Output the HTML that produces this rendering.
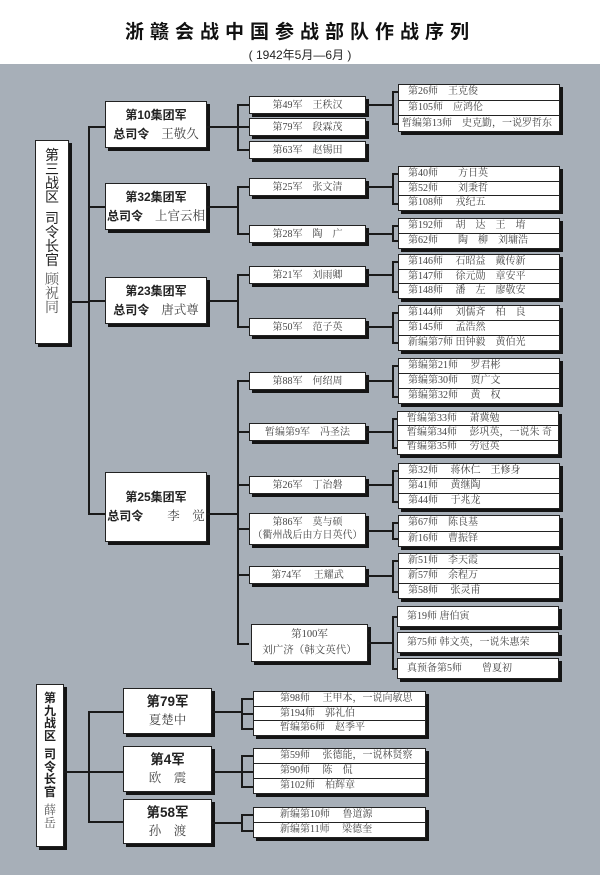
<!DOCTYPE html>
<html><head><meta charset="utf-8">
<style>
*{margin:0;padding:0;box-sizing:border-box}
body{width:600px;height:875px;position:relative;background:#fff;overflow:hidden;font-family:"Liberation Serif","Noto Serif CJK SC",serif}
#bg{position:absolute;left:0;top:64px;width:600px;height:811px;background:#a7afb8}
.a{position:absolute}
.h{position:absolute;height:1.5px;background:#1a1a1a}
.v{position:absolute;width:1.5px;background:#1a1a1a}
.b{position:absolute;background:#fff;border:1px solid #222;box-shadow:3px 3px 0 #141414;overflow:hidden}
.g{display:flex;flex-direction:column;justify-content:center;align-items:center;font-family:"Liberation Sans","Noto Sans CJK SC",sans-serif;font-weight:bold;font-size:12px;color:#222;line-height:19px;white-space:nowrap}
.g .n{font-family:"Liberation Serif","Noto Serif CJK SC",serif;font-weight:normal;color:#444;font-size:12.5px}
.ar{display:flex;align-items:center;justify-content:center;font-size:10px;color:#444;white-space:pre;text-align:center;line-height:13px}
.d{display:flex;flex-direction:column}
.d div{flex:1;min-height:0;border-top:1px solid #222;font-size:10px;line-height:1;color:#444;white-space:pre;padding-left:9px;display:flex;align-items:center;overflow:hidden}
.d div:first-child{border-top:none}
.d2 div{padding-left:26px}
.L{display:flex;flex-direction:column;align-items:center;padding-top:8px;font-family:"Liberation Sans","Noto Sans CJK SC",sans-serif;font-weight:bold;font-size:13px;color:#222;line-height:14px}
.L .n{font-family:"Liberation Serif","Noto Serif CJK SC",serif;font-weight:normal;color:#555}
</style></head><body>
<div class="a" style="left:0;top:17px;width:600px;text-align:center;font-family:'Liberation Sans','Noto Sans CJK SC',sans-serif;font-weight:bold;font-size:19px;letter-spacing:6px;color:#111">浙赣会战中国参战部队作战序列</div>
<div class="a" style="left:0;top:46px;width:600px;text-align:center;font-family:'Liberation Sans','Noto Sans CJK SC',sans-serif;font-size:12px;color:#222">( 1942年5月—6月 )</div>
<div id="bg"></div>

<div class="b L" style="left:35px;top:140px;width:34px;height:204px;padding-top:7px;font-weight:normal;font-size:14px;line-height:14px"><span>第</span><span>三</span><span>战</span><span>区</span><span style="height:7px"></span><span>司</span><span>令</span><span>长</span><span>官</span><span style="height:7px"></span><span class="n">顾</span><span class="n">祝</span><span class="n">同</span></div>
<div class="h" style="left:69px;top:301px;width:19px"></div>
<div class="v" style="left:88px;top:126px;height:388px"></div>
<div class="h" style="left:88px;top:126px;width:17px"></div>
<div class="h" style="left:88px;top:206px;width:17px"></div>
<div class="h" style="left:88px;top:300px;width:17px"></div>
<div class="h" style="left:88px;top:513px;width:17px"></div>

<div class="b g" style="left:105px;top:101px;width:102px;height:47px"><span>第10集团军</span><span>总司令　<span class="n">王敬久</span></span></div>
<div class="b g" style="left:105px;top:183px;width:102px;height:47px"><span>第32集团军</span><span>总司令　<span class="n">上官云相</span></span></div>
<div class="b g" style="left:105px;top:277px;width:102px;height:47px"><span>第23集团军</span><span>总司令　<span class="n">唐式尊</span></span></div>
<div class="b g" style="left:105px;top:472px;width:102px;height:70px"><span>第25集团军</span><span>总司令　　<span class="n">李　觉</span></span></div>

<div class="h" style="left:207px;top:126px;width:30px"></div>
<div class="v" style="left:237px;top:104px;height:46px"></div>
<div class="h" style="left:237px;top:104px;width:12px"></div>
<div class="h" style="left:237px;top:126px;width:12px"></div>
<div class="h" style="left:237px;top:149px;width:12px"></div>

<div class="h" style="left:207px;top:206px;width:30px"></div>
<div class="v" style="left:237px;top:186px;height:48px"></div>
<div class="h" style="left:237px;top:186px;width:12px"></div>
<div class="h" style="left:237px;top:233px;width:12px"></div>

<div class="h" style="left:207px;top:300px;width:30px"></div>
<div class="v" style="left:237px;top:274px;height:53px"></div>
<div class="h" style="left:237px;top:274px;width:12px"></div>
<div class="h" style="left:237px;top:326px;width:12px"></div>

<div class="h" style="left:207px;top:513px;width:30px"></div>
<div class="v" style="left:237px;top:380px;height:264px"></div>
<div class="h" style="left:237px;top:380px;width:12px"></div>
<div class="h" style="left:237px;top:431px;width:12px"></div>
<div class="h" style="left:237px;top:484px;width:12px"></div>
<div class="h" style="left:237px;top:528px;width:12px"></div>
<div class="h" style="left:237px;top:574px;width:12px"></div>
<div class="h" style="left:237px;top:643px;width:12px"></div>

<div class="b ar" style="left:249px;top:96px;width:117px;height:18px">第49军　王秩汉</div>
<div class="b ar" style="left:249px;top:118px;width:117px;height:18px">第79军　段霖茂</div>
<div class="b ar" style="left:249px;top:141px;width:117px;height:18px">第63军　赵锡田</div>
<div class="b ar" style="left:249px;top:178px;width:117px;height:18px">第25军　张文清</div>
<div class="b ar" style="left:249px;top:225px;width:117px;height:18px">第28军　陶　广</div>
<div class="b ar" style="left:249px;top:266px;width:117px;height:18px">第21军　刘雨卿</div>
<div class="b ar" style="left:249px;top:318px;width:117px;height:18px">第50军　范子英</div>
<div class="b ar" style="left:249px;top:372px;width:117px;height:18px">第88军　何绍周</div>
<div class="b ar" style="left:249px;top:423px;width:117px;height:18px">暂编第9军　冯圣法</div>
<div class="b ar" style="left:249px;top:476px;width:117px;height:18px">第26军　丁治磐</div>
<div class="b ar" style="left:249px;top:513px;width:117px;height:32px">第86军　莫与硕
（衢州战后由方日英代）</div>
<div class="b ar" style="left:249px;top:566px;width:117px;height:18px">第74军　 王耀武</div>
<div class="b ar" style="left:251px;top:624px;width:117px;height:38px;font-size:10.5px;line-height:16px">第100军
刘广济（韩文英代）</div>

<div class="h" style="left:366px;top:104px;width:26px"></div><div class="v" style="left:392px;top:91px;height:33px"></div>
<div class="h" style="left:392px;top:91px;width:6px"></div><div class="h" style="left:392px;top:123px;width:6px"></div>
<div class="h" style="left:366px;top:186px;width:26px"></div><div class="v" style="left:392px;top:173px;height:31px"></div>
<div class="h" style="left:392px;top:173px;width:6px"></div><div class="h" style="left:392px;top:203px;width:6px"></div>
<div class="h" style="left:366px;top:233px;width:26px"></div><div class="v" style="left:392px;top:225px;height:16px"></div>
<div class="h" style="left:392px;top:225px;width:6px"></div><div class="h" style="left:392px;top:240px;width:6px"></div>
<div class="h" style="left:366px;top:274px;width:26px"></div><div class="v" style="left:392px;top:261px;height:31px"></div>
<div class="h" style="left:392px;top:261px;width:6px"></div><div class="h" style="left:392px;top:291px;width:6px"></div>
<div class="h" style="left:366px;top:326px;width:26px"></div><div class="v" style="left:392px;top:312px;height:31px"></div>
<div class="h" style="left:392px;top:312px;width:6px"></div><div class="h" style="left:392px;top:342px;width:6px"></div>
<div class="h" style="left:366px;top:380px;width:26px"></div><div class="v" style="left:392px;top:365px;height:32px"></div>
<div class="h" style="left:392px;top:365px;width:6px"></div><div class="h" style="left:392px;top:396px;width:6px"></div>
<div class="h" style="left:366px;top:431px;width:26px"></div><div class="v" style="left:392px;top:418px;height:30px"></div>
<div class="h" style="left:392px;top:418px;width:6px"></div><div class="h" style="left:392px;top:447px;width:6px"></div>
<div class="h" style="left:366px;top:484px;width:26px"></div><div class="v" style="left:392px;top:470px;height:32px"></div>
<div class="h" style="left:392px;top:470px;width:6px"></div><div class="h" style="left:392px;top:501px;width:6px"></div>
<div class="h" style="left:366px;top:530px;width:26px"></div><div class="v" style="left:392px;top:522px;height:17px"></div>
<div class="h" style="left:392px;top:522px;width:6px"></div><div class="h" style="left:392px;top:538px;width:6px"></div>
<div class="h" style="left:366px;top:575px;width:26px"></div><div class="v" style="left:392px;top:560px;height:32px"></div>
<div class="h" style="left:392px;top:560px;width:6px"></div><div class="h" style="left:392px;top:591px;width:6px"></div>
<div class="h" style="left:368px;top:642px;width:24px"></div><div class="v" style="left:392px;top:616px;height:53px"></div>
<div class="h" style="left:392px;top:616px;width:6px"></div><div class="h" style="left:392px;top:668px;width:6px"></div>

<div class="b d" style="left:398px;top:84px;width:162px;height:48px"><div>第26师　王克俊</div><div>第105师　应鸿伦</div><div style="padding-left:3px">暂编第13师　史克勤，一说罗哲东</div></div>
<div class="b d" style="left:398px;top:166px;width:162px;height:45px"><div>第40师　　方日英</div><div>第52师　　刘秉哲</div><div>第108师　 戎纪五</div></div>
<div class="b d" style="left:398px;top:218px;width:162px;height:31px"><div>第192师　 胡　达　王　堉</div><div>第62师　　陶　柳　刘墉浩</div></div>
<div class="b d" style="left:398px;top:254px;width:162px;height:45px"><div>第146师　 石昭益　戴传新</div><div>第147师　 徐元勋　章安平</div><div>第148师　 潘　左　廖敬安</div></div>
<div class="b d" style="left:398px;top:305px;width:162px;height:46px"><div>第144师　 刘儒斉　柏　良</div><div>第145师　 孟浩然</div><div>新编第7师 田钟毅　黄伯光</div></div>
<div class="b d" style="left:398px;top:358px;width:162px;height:46px"><div>第编第21师　 罗君彬</div><div>第编第30师　 贾广文</div><div>第编第32师　 黄　权</div></div>
<div class="b d" style="left:397px;top:411px;width:162px;height:44px"><div>暂编第33师　 萧冀勉</div><div>暂编第34师　 彭巩英，一说朱 奇</div><div>暂编第35师　 劳冠英</div></div>
<div class="b d" style="left:398px;top:463px;width:162px;height:46px"><div>第32师　 蒋休仁　王修身</div><div>第41师　 黄继陶</div><div>第44师　 于兆龙</div></div>
<div class="b d" style="left:398px;top:515px;width:162px;height:32px"><div>第67师　陈良基</div><div>新16师　曹振铎</div></div>
<div class="b d" style="left:398px;top:553px;width:162px;height:46px"><div>新51师　李天霞</div><div>新57师　余程万</div><div>第58师　 张灵甫</div></div>
<div class="b d" style="left:397px;top:606px;width:162px;height:21px"><div>第19师 唐伯寅</div></div>
<div class="b d" style="left:397px;top:632px;width:162px;height:21px"><div>第75师 韩文英，一说朱惠荣</div></div>
<div class="b d" style="left:397px;top:658px;width:162px;height:21px"><div>真预备第5师　　曾夏初</div></div>

<div class="b L" style="left:36px;top:684px;width:28px;height:163px;padding-top:7px;font-size:12px;line-height:12.5px"><span>第</span><span>九</span><span>战</span><span>区</span><span style="height:6px"></span><span>司</span><span>令</span><span>长</span><span>官</span><span style="height:6px"></span><span class="n">薛</span><span class="n">岳</span></div>
<div class="h" style="left:64px;top:771px;width:24px"></div>
<div class="v" style="left:88px;top:711px;height:111px"></div>
<div class="h" style="left:88px;top:711px;width:35px"></div>
<div class="h" style="left:88px;top:771px;width:35px"></div>
<div class="h" style="left:88px;top:821px;width:35px"></div>

<div class="b g" style="left:123px;top:688px;width:89px;height:46px;font-size:13.5px"><span>第79军</span><span class="n">夏楚中</span></div>
<div class="b g" style="left:123px;top:746px;width:89px;height:46px;font-size:13.5px"><span>第4军</span><span class="n">欧　震</span></div>
<div class="b g" style="left:123px;top:799px;width:89px;height:45px;font-size:13.5px"><span>第58军</span><span class="n">孙　渡</span></div>

<div class="h" style="left:212px;top:711px;width:29px"></div><div class="v" style="left:241px;top:698px;height:31px"></div>
<div class="h" style="left:241px;top:698px;width:12px"></div><div class="h" style="left:241px;top:713px;width:12px"></div><div class="h" style="left:241px;top:728px;width:12px"></div>
<div class="h" style="left:212px;top:771px;width:29px"></div><div class="v" style="left:241px;top:755px;height:32px"></div>
<div class="h" style="left:241px;top:755px;width:12px"></div><div class="h" style="left:241px;top:771px;width:12px"></div><div class="h" style="left:241px;top:786px;width:12px"></div>
<div class="h" style="left:212px;top:822px;width:29px"></div><div class="v" style="left:241px;top:814px;height:17px"></div>
<div class="h" style="left:241px;top:814px;width:12px"></div><div class="h" style="left:241px;top:830px;width:12px"></div>

<div class="b d d2" style="left:253px;top:691px;width:173px;height:45px"><div>第98师　 王甲本，一说向敏思</div><div>第194师　郭礼伯</div><div>暂编第6师　赵季平</div></div>
<div class="b d d2" style="left:253px;top:748px;width:173px;height:46px"><div>第59师　 张德能，一说林贤察</div><div>第90师　 陈　侃</div><div>第102师　柏辉章</div></div>
<div class="b d d2" style="left:253px;top:807px;width:173px;height:31px"><div>新编第10师　 鲁道源</div><div>新编第11师　 梁德奎</div></div>
</body></html>
